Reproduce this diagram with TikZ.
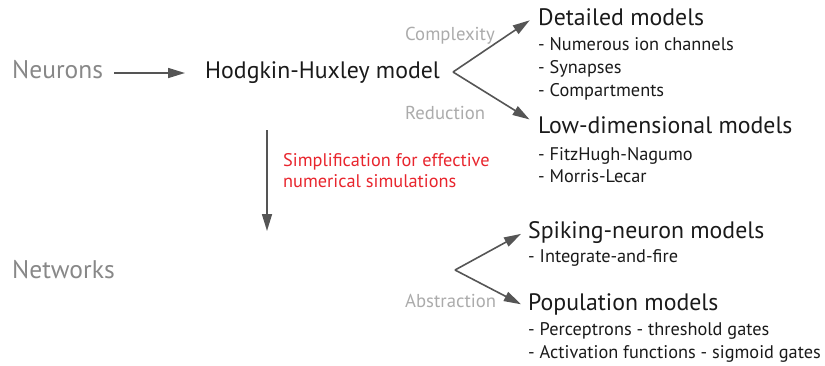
\documentclass[tikz,border=0pt]{standalone}
\usepackage{fontspec}
\setmainfont{PT Sans}
\usetikzlibrary{arrows.meta}

\definecolor{arrowgray}{HTML}{555555}
\definecolor{levelgray}{HTML}{888888}
\definecolor{taggray}{HTML}{ABABAB}
\definecolor{textblack}{HTML}{1A1A1A}
\definecolor{simred}{HTML}{E8252D}

\begin{document}
\begin{tikzpicture}[x=1pt,y=-1pt,
  level/.style={anchor=base west,inner sep=0,text=levelgray,font=\fontsize{25.5}{25.5}\selectfont},
  model/.style={anchor=base west,inner sep=0,text=textblack,font=\fontsize{23.8}{23.8}\selectfont},
  item/.style={anchor=base west,inner sep=0,text=textblack,font=\fontsize{18.3}{18.3}\selectfont},
  tag/.style={anchor=base west,inner sep=0,text=taggray,font=\fontsize{18.7}{18.7}\selectfont},
  note/.style={anchor=base west,inner sep=0,text=simred,font=\fontsize{18.3}{18.3}\selectfont},
  arr/.style={draw=arrowgray,line width=1.6pt,-{Triangle[length=17pt,width=10pt]}}]
\useasboundingbox (0,0) rectangle (825,365);

% Levels of description
\node[level] (neurons)  at (12,78)  {Neurons};
\node[level] (networks) at (12,278) {Networks};

% Single neuron models
\node[model] (hh)       at (205,78)  {Hodgkin-Huxley model};
\node[model] (detailed) at (538,25)  {Detailed models};
\node[item]  (det1)     at (538,50)  {- Numerous ion channels};
\node[item]  (det2)     at (538,73)  {- Synapses};
\node[item]  (det3)     at (538,96)  {- Compartments};
\node[model] (lowdim)   at (538,133) {Low-dimensional models};
\node[item]  (low1)     at (538,160) {- FitzHugh-Nagumo};
\node[item]  (low2)     at (538,182) {- Morris-Lecar};

% Network models
\node[model] (spiking)  at (528,238) {Spiking-neuron models};
\node[item]  (spk1)     at (528,262) {- Integrate-and-fire};
\node[model] (pop)      at (528,310) {Population models};
\node[item]  (pop1)     at (528,335) {- Perceptrons - threshold gates};
\node[item]  (pop2)     at (528,358) {- Activation functions - sigmoid gates};

% Labels on the arrows
\node[tag] (complexity)  at (405,40)  {Complexity};
\node[tag] (reduction)   at (405,119) {Reduction};
\node[tag] (abstraction) at (405,307) {Abstraction};
\node[note] (simp1) at (283,166.5) {Simplification for effective};
\node[note] (simp2) at (283,187)   {numerical simulations};

% Forks and free ends
\coordinate (hhfork)  at (453,72);
\coordinate (netfork) at (455,270);
\coordinate (simtop)  at (267,130);
\coordinate (simbot)  at (267,231);

% Arrows
\draw[arr] (neurons.east |- 0,73) ++(11,0) -- (185,73);
\draw[arr,shorten >=10pt] (hhfork) -- ([yshift=2pt]detailed.west);
\draw[arr,shorten >=10pt] (hhfork) -- (lowdim.west);
\draw[arr] (simtop) -- (simbot);
\draw[arr,shorten >=8pt] (netfork) -- ([yshift=2pt]spiking.west);
\draw[arr,shorten >=8pt] (netfork) -- ([yshift=-4pt]pop.west);

\end{tikzpicture}
\end{document}
